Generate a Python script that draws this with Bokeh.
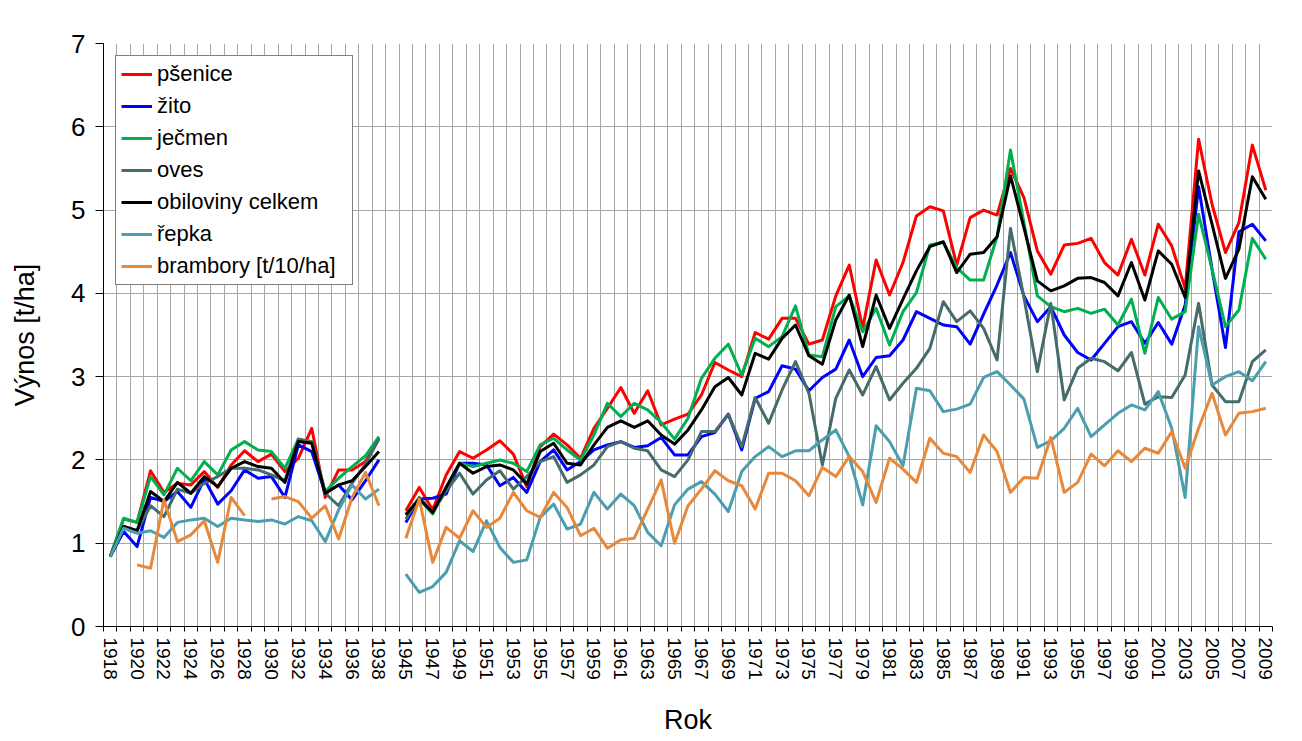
import math
from bokeh.plotting import figure
from bokeh.models import FixedTicker, Range1d, Legend, LegendItem, ColumnDataSource
from bokeh.embed import file_html
from bokeh.resources import INLINE

# ---------------- data ----------------
years_1 = list(range(1918, 1939))
years_2 = list(range(1945, 2010))
# categories along the x axis (an empty slot between 1938 and 1945)
categories = [str(y) for y in years_1] + [""] + [str(y) for y in years_2]

series_names = ["pšenice", "žito", "ječmen", "oves", "obiloviny celkem", "řepka", "brambory [t/10/ha]"]
series_colors = ["#FF0000", "#0000FF", "#00B050", "#456B6B", "#000000", "#4A9EAF", "#E8883A"]

N = None
psenice = [0.84, 1.29, 1.25, 1.87, 1.61, 1.72, 1.70, 1.86, 1.67, 1.94, 2.11, 1.98, 2.07, 1.86, 2.02, 2.38, 1.55, 1.88, 1.88, 1.98, 2.26,
           1.39, 1.67, 1.40, 1.82, 2.10, 2.02, 2.12, 2.23, 2.07, 1.68,
           2.16, 2.31, 2.18, 2.02, 2.38, 2.62, 2.87, 2.56, 2.83, 2.42,
           2.49, 2.55, 2.78, 3.17, 3.08, 3.00, 3.53, 3.45, 3.70, 3.70,
           3.39, 3.44, 3.97, 4.34, 3.58, 4.40, 3.98, 4.37, 4.93, 5.04,
           4.99, 4.34, 4.91, 5.00, 4.94, 5.50, 5.15, 4.51, 4.23, 4.58,
           4.60, 4.66, 4.37, 4.22, 4.65, 4.22, 4.83, 4.57, 4.06, 5.85,
           5.07, 4.49, 4.85, 5.78, 5.24]
zito = [0.84, 1.14, 0.96, 1.55, 1.50, 1.62, 1.43, 1.77, 1.47, 1.63, 1.88, 1.78, 1.80, 1.55, 2.18, 2.10, 1.60, 1.70, 1.52, 1.75, 2.00,
        1.25, 1.53, 1.54, 1.59, 1.96, 1.96, 1.94, 1.69, 1.79, 1.61,
        1.98, 2.12, 1.88, 1.98, 2.12, 2.18, 2.22, 2.15, 2.17, 2.27,
        2.06, 2.06, 2.28, 2.33, 2.55, 2.12, 2.74, 2.82, 3.13, 3.09,
        2.83, 2.99, 3.09, 3.44, 3.00, 3.23, 3.25, 3.44, 3.78, 3.70,
        3.62, 3.60, 3.39, 3.75, 4.10, 4.49, 3.97, 3.66, 3.84, 3.50,
        3.29, 3.20, 3.40, 3.60, 3.66, 3.40, 3.65, 3.39, 3.86, 5.28,
        4.29, 3.35, 4.74, 4.83, 4.63]
jecmen = [0.84, 1.30, 1.25, 1.80, 1.58, 1.90, 1.75, 1.98, 1.82, 2.12, 2.22, 2.12, 2.10, 1.90, 2.25, 2.22, 1.62, 1.78, 1.92, 2.05, 2.28,
          1.35, 1.53, 1.35, 1.67, 1.96, 1.92, 1.96, 2.00, 1.96, 1.86,
          2.18, 2.26, 2.12, 2.00, 2.30, 2.68, 2.52, 2.68, 2.60, 2.45,
          2.25, 2.50, 2.98, 3.22, 3.39, 3.02, 3.46, 3.36, 3.48, 3.85,
          3.26, 3.24, 3.84, 3.97, 3.54, 3.82, 3.38, 3.78, 4.01, 4.58,
          4.61, 4.31, 4.16, 4.16, 4.68, 5.72, 4.85, 3.97, 3.84, 3.78,
          3.82, 3.76, 3.81, 3.62, 3.93, 3.28, 3.95, 3.69, 3.78, 4.95,
          4.29, 3.60, 3.80, 4.66, 4.41]
oves = [0.84, 1.20, 1.15, 1.45, 1.32, 1.65, 1.60, 1.72, 1.80, 1.90, 1.90, 1.88, 1.82, 1.75, 2.25, 2.22, 1.60, 1.45, 1.72, 1.95, 2.25,
        1.29, 1.55, 1.37, 1.63, 1.84, 1.59, 1.76, 1.87, 1.65, 1.80,
        1.98, 2.04, 1.73, 1.82, 1.94, 2.16, 2.22, 2.14, 2.11, 1.88,
        1.80, 2.00, 2.34, 2.34, 2.55, 2.16, 2.75, 2.44, 2.84, 3.18,
        2.80, 1.94, 2.74, 3.08, 2.78, 3.12, 2.72, 2.92, 3.10, 3.34,
        3.90, 3.66, 3.79, 3.58, 3.20, 4.78, 3.95, 3.06, 3.88, 2.72,
        3.10, 3.22, 3.18, 3.07, 3.29, 2.67, 2.76, 2.75, 3.02, 3.88,
        2.90, 2.70, 2.70, 3.18, 3.32]
obiloviny = [0.84, 1.20, 1.15, 1.62, 1.50, 1.73, 1.60, 1.80, 1.68, 1.90, 1.98, 1.92, 1.90, 1.73, 2.22, 2.20, 1.60, 1.70, 1.75, 1.92, 2.10,
             1.34, 1.53, 1.37, 1.67, 1.96, 1.84, 1.92, 1.94, 1.88, 1.71,
             2.10, 2.20, 1.96, 1.94, 2.18, 2.39, 2.47, 2.39, 2.47, 2.30,
             2.19, 2.36, 2.60, 2.88, 2.99, 2.78, 3.28, 3.21, 3.46, 3.62,
             3.25, 3.15, 3.68, 3.98, 3.36, 3.98, 3.58, 3.93, 4.27, 4.56,
             4.62, 4.25, 4.47, 4.49, 4.68, 5.41, 4.79, 4.15, 4.03, 4.09,
             4.18, 4.19, 4.13, 3.97, 4.37, 3.92, 4.51, 4.35, 3.95, 5.47,
             4.83, 4.18, 4.53, 5.40, 5.13]
repka = [0.84, 1.18, 1.12, 1.15, 1.07, 1.25, 1.28, 1.30, 1.20, 1.30, 1.28, 1.26, 1.28, 1.23, 1.32, 1.27, 1.02, 1.40, 1.70, 1.53, 1.65,
         0.63, 0.41, 0.48, 0.65, 1.03, 0.90, 1.27, 0.95, 0.77, 0.80,
         1.31, 1.47, 1.17, 1.23, 1.61, 1.41, 1.59, 1.45, 1.13, 0.97,
         1.46, 1.65, 1.74, 1.59, 1.38, 1.86, 2.04, 2.16, 2.04, 2.11,
         2.11, 2.24, 2.36, 2.04, 1.46, 2.41, 2.22, 1.93, 2.86, 2.83,
         2.58, 2.61, 2.67, 2.99, 3.06, 2.90, 2.73, 2.15, 2.23, 2.38,
         2.62, 2.28, 2.42, 2.56, 2.66, 2.60, 2.82, 2.38, 1.55, 3.60,
         2.90, 3.00, 3.06, 2.95, 3.18]
brambory = [N, N, 0.74, 0.70, 1.52, 1.02, 1.10, 1.27, 0.77, 1.55, 1.33, N, 1.53, 1.56, 1.50, 1.30, 1.45, 1.05, 1.55, 1.85, 1.45,
            1.06, 1.53, 0.77, 1.19, 1.06, 1.39, 1.19, 1.30, 1.61, 1.39,
            1.31, 1.61, 1.43, 1.09, 1.18, 0.94, 1.04, 1.06, 1.41, 1.76,
            1.00, 1.45, 1.65, 1.87, 1.75, 1.69, 1.41, 1.84, 1.84, 1.75,
            1.57, 1.91, 1.80, 2.04, 1.86, 1.49, 2.02, 1.89, 1.73, 2.26,
            2.08, 2.04, 1.85, 2.30, 2.10, 1.61, 1.79, 1.78, 2.27, 1.61,
            1.73, 2.07, 1.93, 2.11, 1.98, 2.14, 2.08, 2.34, 1.90, 2.38,
            2.80, 2.30, 2.56, 2.58, 2.62]

all_series = [psenice, zito, jecmen, oves, obiloviny, repka, brambory]

FONT = "Liberation Sans"


def expand(vals):
    """Put the values on the category slots (empty slot between 1938 and 1945)."""
    out = list(vals[:len(years_1)]) + [None] + list(vals[len(years_1):])
    return [math.nan if v is None else v for v in out]


x_pos = list(range(len(categories)))

p = figure(width=1290, height=737,
           x_range=Range1d(-0.5, len(categories) - 0.5), y_range=Range1d(0, 7),
           output_backend="svg", toolbar_location=None,
           min_border_left=103, min_border_right=18, min_border_top=43, min_border_bottom=107)
p.outline_line_color = None
p.background_fill_color = "white"

boundaries = [i - 0.5 for i in range(len(categories) + 1)]
label_ticks = list(range(0, len(categories), 2))

# x axis
p.xaxis.ticker = FixedTicker(ticks=label_ticks, minor_ticks=boundaries)
p.xaxis.major_label_overrides = {i: categories[i] for i in label_ticks}
p.xaxis.major_tick_line_color = None
p.xaxis.major_tick_out = 5
p.xaxis.major_tick_in = 0
p.xaxis.minor_tick_line_color = "black"
p.xaxis.minor_tick_out = 5
p.xaxis.minor_tick_in = 0
p.xaxis.major_label_orientation = "vertical"
p.xaxis.major_label_standoff = 6
p.xaxis.major_label_text_font_size = "19px"
p.xaxis.axis_label = "Rok"
p.xaxis.axis_label_standoff = 22

# y axis
p.yaxis.ticker = FixedTicker(ticks=list(range(0, 8)), minor_ticks=[])
p.yaxis.major_tick_out = 8
p.yaxis.major_tick_in = 0
p.yaxis.major_label_standoff = 10
p.yaxis.major_label_text_font_size = "26px"
p.yaxis.axis_label = "Výnos [t/ha]"
p.yaxis.axis_label_standoff = 28

for ax in (p.xaxis, p.yaxis):
    ax.axis_line_color = "black"
    ax.axis_line_width = 1
    ax.major_label_text_font = FONT
    ax.major_label_text_color = "black"
    ax.axis_label_text_font = FONT
    ax.axis_label_text_font_size = "27px"
    ax.axis_label_text_font_style = "normal"
    ax.axis_label_text_color = "black"

# grids
p.xgrid.ticker = FixedTicker(ticks=boundaries)
p.xgrid.grid_line_color = "#A6A6A6"
p.xgrid.grid_line_width = 1
p.ygrid.ticker = FixedTicker(ticks=list(range(1, 8)))
p.ygrid.grid_line_color = "#A6A6A6"
p.ygrid.grid_line_width = 1

items = []
for name, color, vals in zip(series_names, series_colors, all_series):
    src = ColumnDataSource(data=dict(x=x_pos, y=expand(vals)))
    r = p.line("x", "y", source=src, line_color=color, line_width=3, line_join="round")
    items.append(LegendItem(label=name, renderers=[r]))

legend = Legend(items=items, location="top_left", margin=12,
                label_text_font=FONT, label_text_font_size="22px", label_text_color="black",
                glyph_width=31, glyph_height=24, label_height=24, label_width=190,
                spacing=6, padding=5, label_standoff=5,
                border_line_color="black", border_line_width=1,
                background_fill_color="white", background_fill_alpha=1.0)
p.add_layout(legend)

open("out.html", "w").write(file_html(p, INLINE))
